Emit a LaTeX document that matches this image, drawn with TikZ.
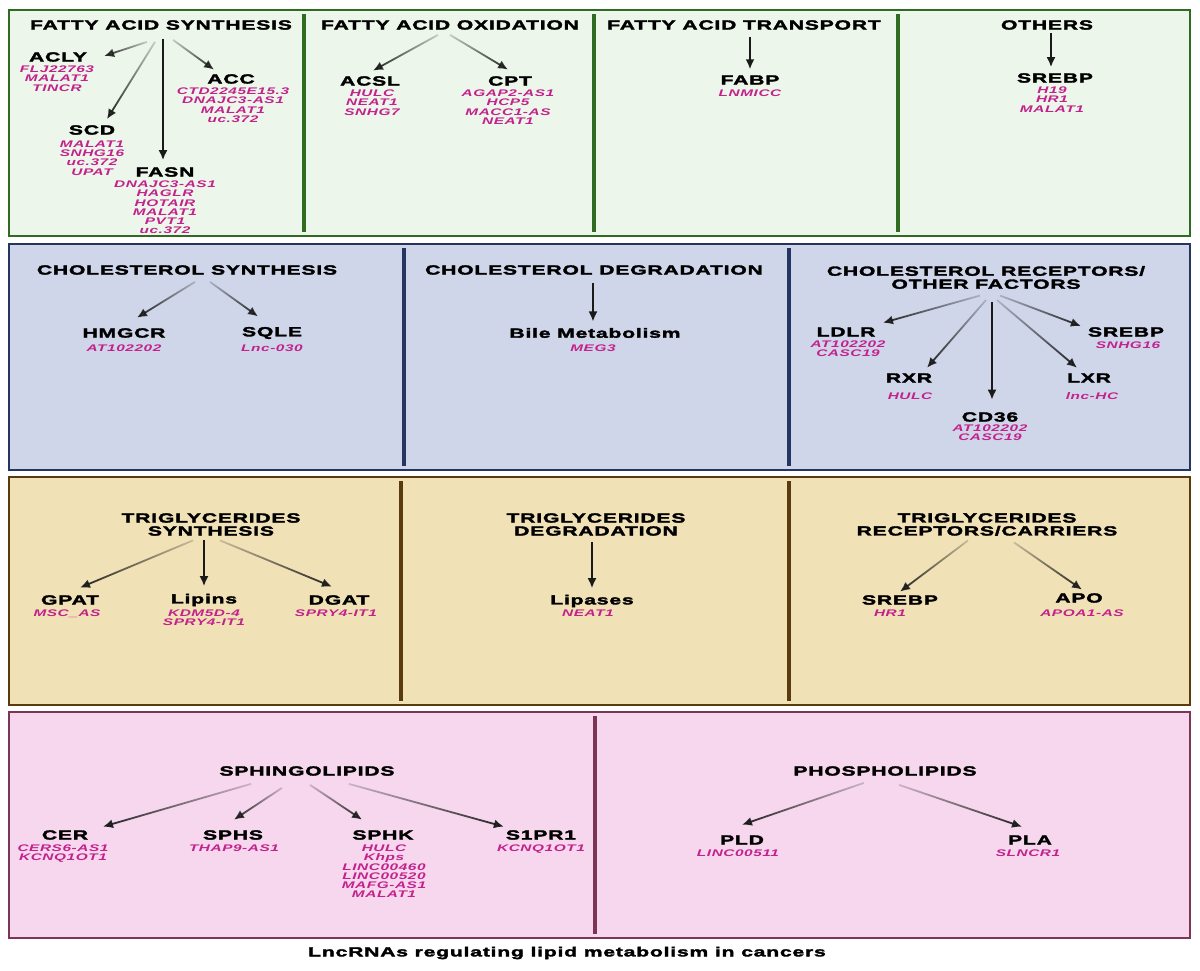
\documentclass[tikz,border=0pt]{standalone}
\usepackage{fontspec}
\setmainfont{Liberation Sans}[FakeStretch=1.6,LetterSpace=6,BoldFeatures={FakeBold=2.5}]
\usetikzlibrary{fadings,arrows.meta}

\definecolor{gborder}{HTML}{2F6B20}
\definecolor{gfill}{HTML}{EDF6EA}
\definecolor{bborder}{HTML}{25355F}
\definecolor{bfill}{HTML}{CFD6E9}
\definecolor{tborder}{HTML}{5A3B10}
\definecolor{tfill}{HTML}{F1E1B6}
\definecolor{pborder}{HTML}{7B3556}
\definecolor{pfill}{HTML}{F6D7ED}
\definecolor{lncpink}{HTML}{C3218C}
\definecolor{arrowc}{HTML}{1A1A1A}

\tikzfading[name=arfade, left color=transparent!85, middle color=transparent!5, right color=transparent!0]

\begin{document}
\begin{tikzpicture}[x=1pt, y=-1pt,
    hd/.style = {font=\fontsize{13.2}{13}\selectfont\bfseries, align=center, inner sep=1pt},
    gn/.style = {font=\fontsize{13.2}{13}\selectfont\bfseries, inner sep=1pt},
    lnc/.style = {font=\fontsize{9.6}{9.2}\selectfont\bfseries\itshape, text=lncpink, align=center, anchor=north, inner sep=0pt},
    box/.style = {line width=2pt},
    sep/.style = {line width=3.5pt},
    ar/.style = {line width=1.8pt, draw=arrowc, -{Latex[length=10pt,width=9pt]}},
    dl/.style = {ar, path fading=arfade, fading transform={rotate=-135, scale=1.5}},
    dr/.style = {ar, path fading=arfade, fading transform={rotate=-45, scale=1.5}}]
        \useasboundingbox[fill=white] (0,0) rectangle (1200,970);

        % panels
        \draw[box, draw=gborder, fill=gfill] (9,10) rectangle (1190,236);
        \draw[sep, gborder] (304,14) -- (304,232);
        \draw[sep, gborder] (594,14) -- (594,232);
        \draw[sep, gborder] (898,14) -- (898,232);

        \draw[box, draw=bborder, fill=bfill] (9,244) rectangle (1190,470);
        \draw[sep, bborder] (404,248) -- (404,466);
        \draw[sep, bborder] (789,248) -- (789,466);

        \draw[box, draw=tborder, fill=tfill] (9,477) rectangle (1190,705);
        \draw[sep, tborder] (401,481) -- (401,701);
        \draw[sep, tborder] (789,481) -- (789,701);

        \draw[box, draw=pborder, fill=pfill] (9,712) rectangle (1190,938);
        \draw[sep, pborder] (595,716) -- (595,934);

        % fatty acids
        \node[hd] (fas) at (161,25) {FATTY ACID SYNTHESIS};
        \node[gn] (acly) at (58,57) {ACLY};
        \node[lnc] (acly-r) at (57,65.7) {FLJ22763\\MALAT1\\TINCR};
        \node[gn] (acc) at (231,79) {ACC};
        \node[lnc] (acc-r) at (233,87.7) {CTD2245E15.3\\DNAJC3-AS1\\MALAT1\\uc.372};
        \node[gn] (scd) at (92,130) {SCD};
        \node[lnc] (scd-r) at (92,140.7) {MALAT1\\SNHG16\\uc.372\\UPAT};
        \node[gn] (fasn) at (165,172) {FASN};
        \node[lnc] (fasn-r) at (165,180.7) {DNAJC3-AS1\\HAGLR\\HOTAIR\\MALAT1\\PVT1\\uc.372};

        \node[hd] (fao) at (450,25) {FATTY ACID OXIDATION};
        \node[gn] (acsl) at (370,81) {ACSL};
        \node[lnc] (acsl-r) at (372,89.7) {HULC\\NEAT1\\SNHG7};
        \node[gn] (cpt) at (510,81) {CPT};
        \node[lnc] (cpt-r) at (508,89.7) {AGAP2-AS1\\HCP5\\MACC1-AS\\NEAT1};

        \node[hd] (fat) at (744,25) {FATTY ACID TRANSPORT};
        \node[gn] (fabp) at (750,80) {FABP};
        \node[lnc] (fabp-r) at (750,89.7) {LNMICC};

        \node[hd] (oth) at (1047,25) {OTHERS};
        \node[gn] (srebpa) at (1055,78) {SREBP};
        \node[lnc] (srebpa-r) at (1052,86.7) {H19\\HR1\\MALAT1};

        \draw[dl] ([xshift=-14pt,yshift=-11pt]fas.south) -- ([xshift=16pt,yshift=1pt]acly.east);
        \draw[dl] ([xshift=-6pt,yshift=-11pt]fas.south) -- ([xshift=15pt,yshift=5pt]scd.north);
        \draw[ar] ([xshift=2pt,yshift=-8pt]fas.south) -- ([xshift=-2pt,yshift=6pt]fasn.north);
        \draw[dr] ([xshift=12pt,yshift=-9pt]fas.south) -- ([xshift=-17pt,yshift=3.5pt]acc.north);
        \draw[dl] ([xshift=-12pt,yshift=-4pt]fao.south) -- ([xshift=3pt,yshift=4.5pt]acsl.north);
        \draw[dr] ([yshift=-4pt]fao.south) -- ([xshift=-2pt,yshift=5.5pt]cpt.north);
        \draw[ar] ([xshift=6pt,yshift=-6pt]fat.south) -- ([yshift=5pt]fabp.north);
        \draw[ar] ([xshift=4pt,yshift=-2pt]oth.south) -- ([xshift=-4pt,yshift=5pt]srebpa.north);

        % cholesterol
        \node[hd] (chs) at (187,270) {CHOLESTEROL SYNTHESIS};
        \node[gn] (hmgcr) at (124,333) {HMGCR};
        \node[lnc] (hmgcr-r) at (124,344.7) {AT102202};
        \node[gn] (sqle) at (272,333) {SQLE};
        \node[lnc] (sqle-r) at (272,344.7) {Lnc-030};

        \node[hd] (chd) at (594,270) {CHOLESTEROL DEGRADATION};
        \node[gn] (bile) at (595,333) {Bile Metabolism};
        \node[lnc] (bile-r) at (593,344.7) {MEG3};

        \node[hd] (chr) at (986,277.5) {CHOLESTEROL RECEPTORS/\\OTHER FACTORS};
        \node[gn] (ldlr) at (846,332) {LDLR};
        \node[lnc] (ldlr-r) at (848,340.7) {AT102202\\CASC19};
        \node[gn] (srebpb) at (1126,332) {SREBP};
        \node[lnc] (srebpb-r) at (1128,341.7) {SNHG16};
        \node[gn] (rxr) at (909,378) {RXR};
        \node[lnc] (rxr-r) at (910,392.7) {HULC};
        \node[gn] (lxr) at (1089,378) {LXR};
        \node[lnc] (lxr-r) at (1092,392.7) {lnc-HC};
        \node[gn] (cd36) at (990,417) {CD36};
        \node[lnc] (cd36-r) at (990,424.7) {AT102202\\CASC19};

        \draw[dl] ([xshift=8pt,yshift=-6pt]chs.south) -- ([xshift=13pt,yshift=9.5pt]hmgcr.north);
        \draw[dr] ([xshift=23pt,yshift=-6pt]chs.south) -- ([xshift=-14pt,yshift=9.5pt]sqle.north);
        \draw[ar] ([xshift=-1pt,yshift=-7pt]chd.south) -- ([xshift=-2pt,yshift=5.5pt]bile.north);
        \draw[dl] ([xshift=-6pt,yshift=-5.5pt]chr.south) -- ([xshift=37pt,yshift=3.5pt]ldlr.north);
        \draw[dl] ([yshift=-10pt]chr.south) -- ([xshift=18pt,yshift=4.5pt]rxr.north);
        \draw[ar] ([xshift=6pt,yshift=-12pt]chr.south) -- ([xshift=2pt,yshift=11.5pt]cd36.north);
        \draw[dr] ([xshift=11pt,yshift=-10pt]chr.south) -- ([xshift=-12pt,yshift=4.5pt]lxr.north);
        \draw[dr] ([xshift=14pt,yshift=-5.5pt]chr.south) -- ([xshift=-6pt,yshift=6pt]srebpb.west);

        % triglycerides
        \node[hd] (tgs) at (211,524.5) {TRIGLYCERIDES\\SYNTHESIS};
        \node[gn] (gpat) at (70,600) {GPAT};
        \node[lnc] (gpat-r) at (67,609.7) {MSC\_AS};
        \node[gn] (lipins) at (204,600) {Lipins};
        \node[lnc] (lipins-r) at (204,609.7) {KDM5D-4\\SPRY4-IT1};
        \node[gn] (dgat) at (339,600) {DGAT};
        \node[lnc] (dgat-r) at (336,609.7) {SPRY4-IT1};

        \node[hd] (tgd) at (596,524.5) {TRIGLYCERIDES\\DEGRADATION};
        \node[gn] (lipases) at (592,601) {Lipases};
        \node[lnc] (lipases-r) at (588,609.7) {NEAT1};

        \node[hd] (tgr) at (987,524.5) {TRIGLYCERIDES\\RECEPTORS/CARRIERS};
        \node[gn] (srebpc) at (900,600) {SREBP};
        \node[lnc] (srebpc-r) at (890,609.7) {HR1};
        \node[gn] (apo) at (1079,598) {APO};
        \node[lnc] (apo-r) at (1082,609.7) {APOA1-AS};

        \draw[dl] ([xshift=-18pt,yshift=-3.5pt]tgs.south) -- ([xshift=10pt,yshift=6.5pt]gpat.north);
        \draw[ar] ([xshift=-7pt,yshift=-3.5pt]tgs.south) -- ([yshift=6.5pt]lipins.north);
        \draw[dr] ([xshift=9pt,yshift=-3.5pt]tgs.south) -- ([xshift=-7pt,yshift=7.5pt]dgat.north);
        \draw[ar] ([xshift=-4pt,yshift=-5.5pt]tgd.south) -- ([yshift=5.5pt]lipases.north);
        \draw[dl] ([xshift=-19pt,yshift=-3.5pt]tgr.south) -- ([yshift=2.5pt]srebpc.north);
        \draw[dr] ([xshift=27pt,yshift=-5.5pt]tgr.south) -- ([xshift=3pt,yshift=2.5pt]apo.north);

        % sphingolipids and phospholipids
        \node[hd] (sph) at (307,771) {SPHINGOLIPIDS};
        \node[gn] (cer) at (65,835) {CER};
        \node[lnc] (cer-r) at (63,844.7) {CERS6-AS1\\KCNQ1OT1};
        \node[gn] (sphs) at (233,835) {SPHS};
        \node[lnc] (sphs-r) at (234,844.7) {THAP9-AS1};
        \node[gn] (sphk) at (383,835) {SPHK};
        \node[lnc] (sphk-r) at (384,844.7) {HULC\\Khps\\LINC00460\\LINC00520\\MAFG-AS1\\MALAT1};
        \node[gn] (s1pr1) at (541,835) {S1PR1};
        \node[lnc] (s1pr1-r) at (541,844.7) {KCNQ1OT1};

        \node[hd] (pho) at (885,771) {PHOSPHOLIPIDS};
        \node[gn] (pld) at (742,840) {PLD};
        \node[lnc] (pld-r) at (738,849.7) {LINC00511};
        \node[gn] (pla) at (1030,840) {PLA};
        \node[lnc] (pla-r) at (1028,849.7) {SLNCR1};

        \draw[dl] ([xshift=-56pt,yshift=-7pt]sph.south) -- ([xshift=38pt,yshift=2.5pt]cer.north);
        \draw[dl] ([xshift=-25pt,yshift=-11pt]sph.south) -- ([xshift=1pt,yshift=9.5pt]sphs.north);
        \draw[dr] ([xshift=3pt,yshift=-8pt]sph.south) -- ([xshift=-21pt,yshift=9.5pt]sphk.north);
        \draw[dr] ([xshift=42pt,yshift=-7pt]sph.south) -- ([xshift=-37pt,yshift=2.5pt]s1pr1.north);
        \draw[dl] ([xshift=-21pt,yshift=-6pt]pho.south) -- ([yshift=9.5pt]pld.north);
        \draw[dr] ([xshift=14pt,yshift=-8pt]pho.south) -- ([xshift=-8pt,yshift=7.5pt]pla.north);

        \node[hd] (cap) at (567,953) {LncRNAs regulating lipid metabolism in cancers};
    \end{tikzpicture}
\end{document}
